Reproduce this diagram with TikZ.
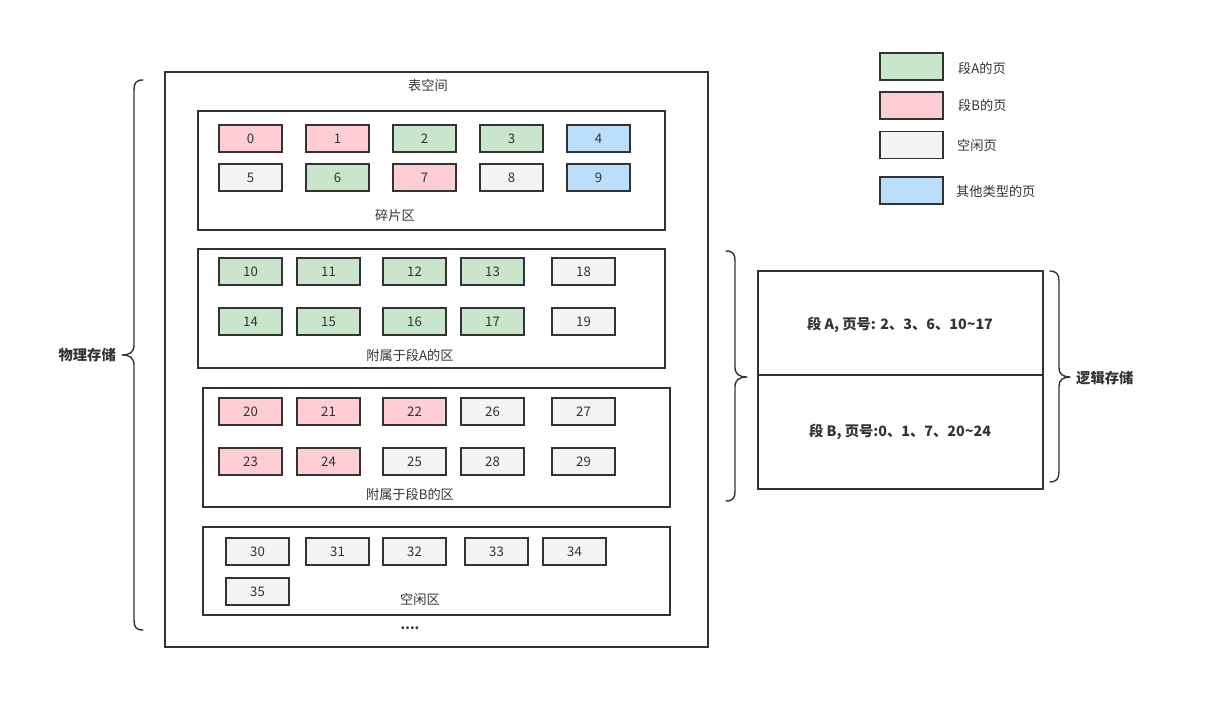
\documentclass[tikz,border=0pt]{standalone}
\usepackage{fontspec}
\setmainfont{Noto Sans CJK SC}
\definecolor{ln}{HTML}{333333}
\definecolor{cA}{HTML}{C9E5CB}
\definecolor{cB}{HTML}{FFCDD2}
\definecolor{cF}{HTML}{F4F4F4}
\definecolor{cO}{HTML}{BBDEFB}
\begin{document}
\begin{tikzpicture}[x=1pt,y=-1pt,
  every node/.style={text=ln,font=\fontsize{13.2}{15}\selectfont},
  pg/.style={draw=ln,line width=1.8pt,minimum width=63pt,minimum height=27pt,inner sep=0pt},
  area/.style={draw=ln,line width=1.4pt},
  lbl/.style={inner sep=0pt},
  brc/.style={draw=ln,line width=1.4pt,line cap=round,line join=round},
  bold/.style={font=\fontsize{14.3}{17}\selectfont\bfseries}]
\useasboundingbox (0,0) rectangle (1205,708);
% outer table space
\draw[area] (165,72) rectangle (708,647);
\node[lbl] (tsl) at (428,85) {表空间};
% areas
\draw[area] (198,111) rectangle (665,230);
\draw[area] (198,249) rectangle (665,368);
\draw[area] (203,388) rectangle (670,507);
\draw[area] (203,527) rectangle (670,615);
\node[lbl] (l1) at (395,215) {碎片区};
\node[lbl] (l2) at (410,355) {附属于段A的区};
\node[lbl] (l3) at (410,494) {附属于段B的区};
\node[lbl] (l4) at (420,599) {空闲区};
\node[lbl,font=\fontsize{13.2}{15}\selectfont\bfseries] (l5) at (410,628) {....};
% fragment pages
\node[pg,fill=cB] (p0) at (250.5,138.5) {0};
\node[pg,fill=cB] (p1) at (337.5,138.5) {1};
\node[pg,fill=cA] (p2) at (424.5,138.5) {2};
\node[pg,fill=cA] (p3) at (511.5,138.5) {3};
\node[pg,fill=cO] (p4) at (598.5,138.5) {4};
\node[pg,fill=cF] (p5) at (250.5,177.5) {5};
\node[pg,fill=cA] (p6) at (337.5,177.5) {6};
\node[pg,fill=cB] (p7) at (424.5,177.5) {7};
\node[pg,fill=cF] (p8) at (511.5,177.5) {8};
\node[pg,fill=cO] (p9) at (598.5,177.5) {9};
% segment A
\node[pg,fill=cA] (p10) at (250.5,271.5) {10};
\node[pg,fill=cA] (p11) at (328.5,271.5) {11};
\node[pg,fill=cA] (p12) at (414.5,271.5) {12};
\node[pg,fill=cA] (p13) at (492.5,271.5) {13};
\node[pg,fill=cF] (p18) at (583.5,271.5) {18};
\node[pg,fill=cA] (p14) at (250.5,321.5) {14};
\node[pg,fill=cA] (p15) at (328.5,321.5) {15};
\node[pg,fill=cA] (p16) at (414.5,321.5) {16};
\node[pg,fill=cA] (p17) at (492.5,321.5) {17};
\node[pg,fill=cF] (p19) at (583.5,321.5) {19};
% segment B
\node[pg,fill=cB] (p20) at (250.5,411.5) {20};
\node[pg,fill=cB] (p21) at (328.5,411.5) {21};
\node[pg,fill=cB] (p22) at (414.5,411.5) {22};
\node[pg,fill=cF] (p26) at (492.5,411.5) {26};
\node[pg,fill=cF] (p27) at (583.5,411.5) {27};
\node[pg,fill=cB] (p23) at (250.5,461.5) {23};
\node[pg,fill=cB] (p24) at (328.5,461.5) {24};
\node[pg,fill=cF] (p25) at (414.5,461.5) {25};
\node[pg,fill=cF] (p28) at (492.5,461.5) {28};
\node[pg,fill=cF] (p29) at (583.5,461.5) {29};
% free
\node[pg,fill=cF] (p30) at (257.5,551.5) {30};
\node[pg,fill=cF] (p31) at (337.5,551.5) {31};
\node[pg,fill=cF] (p32) at (414.5,551.5) {32};
\node[pg,fill=cF] (p33) at (496.5,551.5) {33};
\node[pg,fill=cF] (p34) at (574.5,551.5) {34};
\node[pg,fill=cF] (p35) at (257.5,591.5) {35};
% legend
\node[pg,fill=cA] (lgA) at (911.5,66.5) {};
\node[pg,fill=cB] (lgB) at (911.5,105.5) {};
\node[pg,fill=cF] (lgF) at (911.5,145) {};
\node[pg,fill=cO] (lgO) at (911.5,190.5) {};
\node[lbl,anchor=west] (tA) at (958,68) {段A的页};
\node[lbl,anchor=west] (tB) at (958,105) {段B的页};
\node[lbl,anchor=west] (tF) at (957,145) {空闲页};
\node[lbl,anchor=west] (tO) at (956,191) {其他类型的页};
% logical storage
\draw[area] (758,271) rectangle (1043,489);
\draw[area] (758,375) -- (1043,375);
\node[lbl,bold] (sa) at (900,325) {段 A, 页号: 2、3、6、10\textasciitilde17};
\node[lbl,bold] (sb) at (900,432) {段 B, 页号:0、1、7、20\textasciitilde24};
% braces
\draw[brc] (143,80) .. controls (136,80) and (134,83) .. (134,90) -- (134,345)
  .. controls (134,352) and (130,355) .. (122,355)
  .. controls (130,355) and (134,358) .. (134,365) -- (134,620)
  .. controls (134,627) and (136,630) .. (143,630);
\node[lbl,bold,anchor=east] (phys) at (116,355) {物理存储};
\draw[brc] (726,251) .. controls (733,251) and (735,254) .. (735,261) -- (735,367)
  .. controls (735,374) and (739,377) .. (747,377)
  .. controls (739,377) and (735,380) .. (735,387) -- (735,491)
  .. controls (735,498) and (733,501) .. (726,501);
\draw[brc] (1050,271) .. controls (1056,271) and (1059,274) .. (1059,281) -- (1059,368)
  .. controls (1059,374) and (1063,377) .. (1070,377)
  .. controls (1063,377) and (1059,380) .. (1059,386) -- (1059,472)
  .. controls (1059,479) and (1056,482) .. (1050,482);
\node[lbl,bold,anchor=west] (logi) at (1076,378) {逻辑存储};
\end{tikzpicture}
\end{document}
